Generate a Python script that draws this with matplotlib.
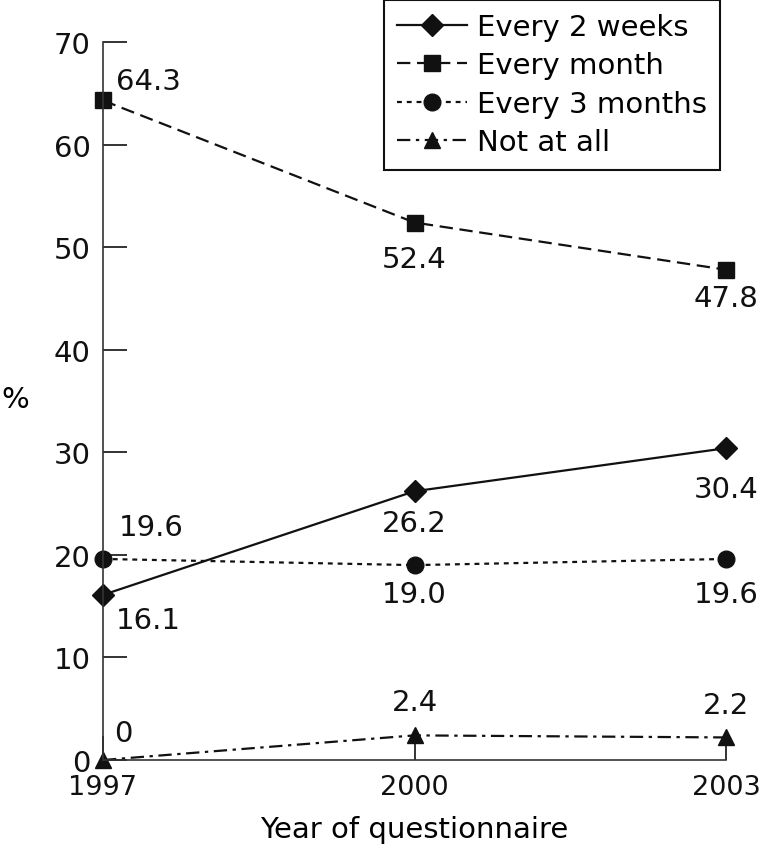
import matplotlib.pyplot as plt

plt.rcParams['font.family'] = 'DejaVu Sans'

years = [1997, 2000, 2003]
every_2_weeks = [16.1, 26.2, 30.4]
every_month = [64.3, 52.4, 47.8]
every_3_months = [19.6, 19.0, 19.6]
not_at_all = [0, 2.4, 2.2]

# label offsets in pixels (dx, dy), converted to points below
offs_2w = [(45, -25), (0, -32), (0, -41)]
offs_m = [(45, 19), (0, -36), (0, -28)]
offs_3m = [(48, 32), (0, -29), (0, -35)]
offs_no = [(20, 27), (0, 33), (0, 32)]

fs = 21
fig = plt.figure(figsize=(7.6, 8.53), dpi=100)
ax = fig.add_axes([103 / 760, 92 / 853, 623 / 760, 718 / 853])

ink = '#111111'
ax.plot(years, every_2_weeks, color=ink, lw=1.6, marker='D', ms=11, label='Every 2 weeks')
ax.plot(years, every_month, color=ink, lw=1.6, ls=(0, (6, 3)), marker='s', ms=11, label='Every month')
ax.plot(years, every_3_months, color=ink, lw=1.6, ls=(0, (2.2, 2.2)), marker='o', ms=12, label='Every 3 months')
ax.plot(years, not_at_all, color=ink, lw=1.6, ls=(0, (6, 2.5, 1.5, 2.5)), marker='^', ms=12, label='Not at all')
for ln in ax.lines:
    ln.set_clip_on(False)

def label(vals, offs, fmt):
    for x, v, (dx, dy) in zip(years, vals, offs):
        ax.annotate(fmt(v), xy=(x, v), xytext=(dx * 0.72, dy * 0.72), textcoords='offset points',
                    ha='center', va='center', fontsize=fs, color=ink)

fmt1 = lambda v: f'{v:.1f}'
label(every_2_weeks, offs_2w, fmt1)
label(every_month, offs_m, fmt1)
label(every_3_months, offs_3m, fmt1)
label(not_at_all, offs_no, lambda v: '0' if v == 0 else f'{v:.1f}')

ax.set_xlim(1997, 2003)
ax.set_ylim(0, 70)
ax.set_xticks(years)
ax.set_yticks(range(0, 71, 10))
ax.tick_params(direction='in', length=17, width=1.2, labelsize=fs, colors=ink)
ax.tick_params(axis='y', pad=9)
ax.tick_params(axis='x', pad=10, labelsize=19.5)
for s in ['top', 'right']:
    ax.spines[s].set_visible(False)
for s in ['left', 'bottom']:
    ax.spines[s].set_linewidth(1.2)
    ax.spines[s].set_color('#333333')

ax.set_xlabel('Year of questionnaire', fontsize=fs, labelpad=11)
fig.text(15 / 760, 1 - 400 / 853, '%', fontsize=fs, ha='center', va='center')

leg = ax.legend(loc='upper left', bbox_to_anchor=(384 / 760, 0.999), bbox_transform=fig.transFigure,
                fontsize=fs, frameon=True, fancybox=False, edgecolor=ink, framealpha=1,
                handlelength=2.4, handletextpad=0.33, labelspacing=0.36, borderpad=0.45, borderaxespad=0)
leg.get_frame().set_linewidth(1.5)

fig.savefig('out.png', dpi=100)
